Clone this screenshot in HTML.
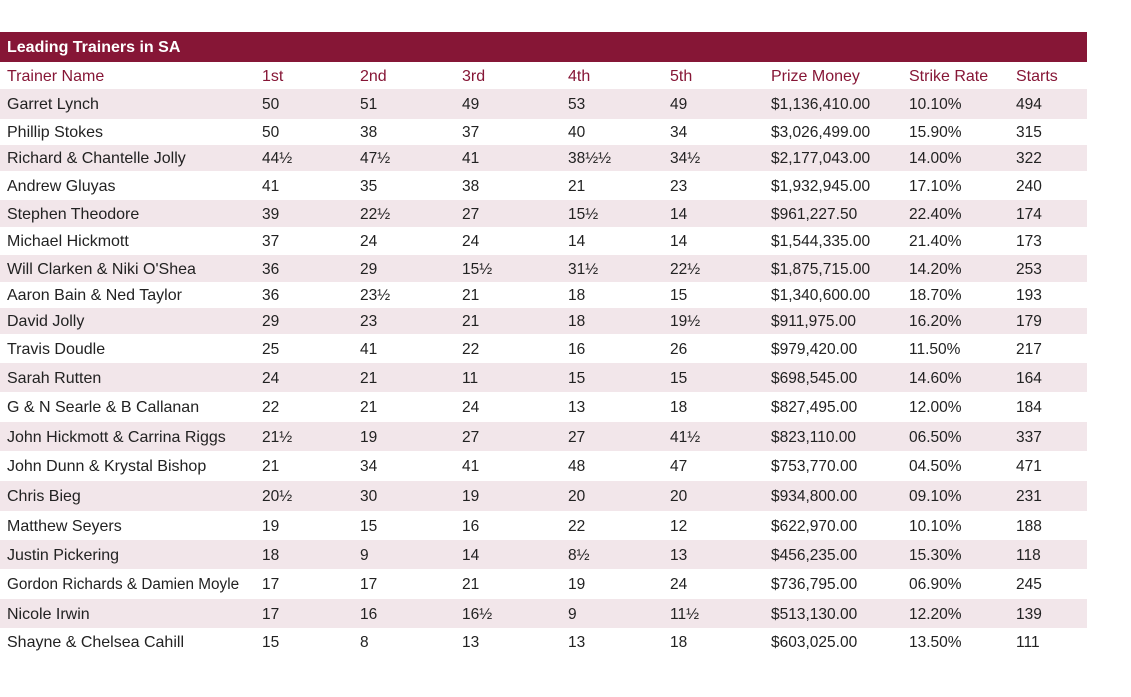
<!DOCTYPE html>
<html><head><meta charset="utf-8"><style>
body{margin:0;width:1131px;height:697px;background:#fff;font-family:"Liberation Sans",sans-serif;position:relative;overflow:hidden}
.bar{position:absolute;left:0;top:32px;width:1087px;height:30px;background:#861636;color:#fff;font-weight:bold;font-size:16px;line-height:32px;padding-left:7px;box-sizing:border-box}
.row{position:absolute;left:0;width:1087px;font-size:15.5px;color:#222}
.row.s{background:#f2e6ea}
.row span{position:absolute;top:50%;transform:translateY(-45%);white-space:nowrap}
.row span.n{font-size:16px}
.hd{color:#861636}
</style></head><body>
<div class="bar">Leading Trainers in SA</div>
<div id="t"></div>
<script>
var xs=[7,262,360,462,568,670,771,909,1016];
var b=[62,89,119,145,171,200,227,255,282,308,334,363,392,422,451,481,511,540,569,599,628,656];
var d=[["Trainer Name","1st","2nd","3rd","4th","5th","Prize Money","Strike Rate","Starts"],
["Garret Lynch","50","51","49","53","49","$1,136,410.00","10.10%","494"],
["Phillip Stokes","50","38","37","40","34","$3,026,499.00","15.90%","315"],
["Richard & Chantelle Jolly","44½","47½","41","38½½","34½","$2,177,043.00","14.00%","322"],
["Andrew Gluyas","41","35","38","21","23","$1,932,945.00","17.10%","240"],
["Stephen Theodore","39","22½","27","15½","14","$961,227.50","22.40%","174"],
["Michael Hickmott","37","24","24","14","14","$1,544,335.00","21.40%","173"],
["Will Clarken & Niki O'Shea","36","29","15½","31½","22½","$1,875,715.00","14.20%","253"],
["Aaron Bain & Ned Taylor","36","23½","21","18","15","$1,340,600.00","18.70%","193"],
["David Jolly","29","23","21","18","19½","$911,975.00","16.20%","179"],
["Travis Doudle","25","41","22","16","26","$979,420.00","11.50%","217"],
["Sarah Rutten","24","21","11","15","15","$698,545.00","14.60%","164"],
["G & N Searle & B Callanan","22","21","24","13","18","$827,495.00","12.00%","184"],
["John Hickmott & Carrina Riggs","21½","19","27","27","41½","$823,110.00","06.50%","337"],
["John Dunn & Krystal Bishop","21","34","41","48","47","$753,770.00","04.50%","471"],
["Chris Bieg","20½","30","19","20","20","$934,800.00","09.10%","231"],
["Matthew Seyers","19","15","16","22","12","$622,970.00","10.10%","188"],
["Justin Pickering","18","9","14","8½","13","$456,235.00","15.30%","118"],
["Gordon Richards & Damien Moyle","17","17","21","19","24","$736,795.00","06.90%","245"],
["Nicole Irwin","17","16","16½","9","11½","$513,130.00","12.20%","139"],
["Shayne & Chelsea Cahill","15","8","13","13","18","$603,025.00","13.50%","111"]];
var h="";
for(var i=0;i<d.length;i++){
 var cls="row"+(i==0?" hd":"")+(i>0&&i%2==1?" s":"");
 h+='<div class="'+cls+'" style="top:'+b[i]+'px;height:'+(b[i+1]-b[i])+'px">';
 for(var j=0;j<9;j++){var c=(j==0||i==0)?'n':'';var fs=(i==18&&j==0)?'font-size:15.3px;':'';h+='<span class="'+c+'" style="left:'+xs[j]+'px;'+fs+'">'+d[i][j].replace(/&/g,"&amp;")+'</span>';}
 h+='</div>';
}
document.getElementById("t").innerHTML=h;
</script>
</body></html>
